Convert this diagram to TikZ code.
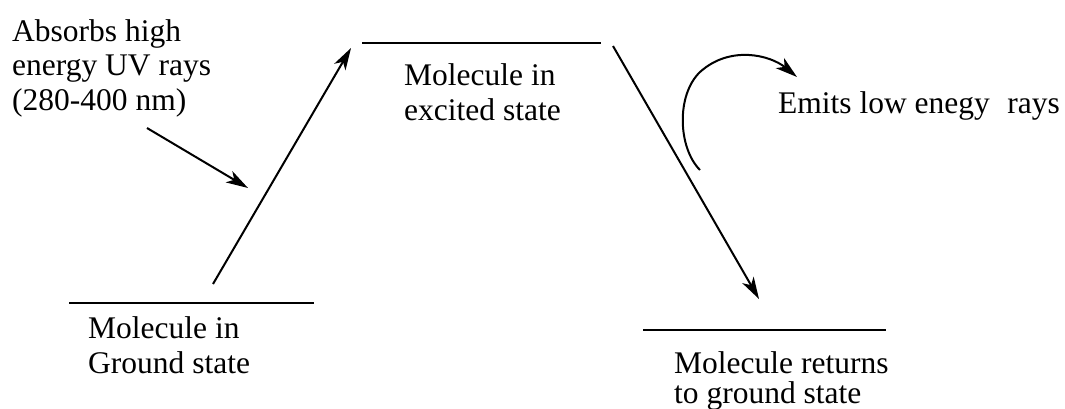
\documentclass[tikz,border=0pt]{standalone}
\usepackage{fontspec}
\setmainfont{Liberation Serif}
\usetikzlibrary{arrows.meta}
\begin{document}
\begin{tikzpicture}[x=1pt,y=-1pt,
  level/.style={line width=2pt},
  arr/.style={line width=2pt,-{Stealth[length=22pt,width=13pt,inset=6pt]}},
  lbl/.style={inner sep=0pt,anchor=base west,align=left,
    font=\fontsize{31.5}{34.5}\selectfont}]
\useasboundingbox (0,0) rectangle (1065,408);
% energy levels
\coordinate (g1) at (69,303);  \coordinate (g2) at (314,303);
\coordinate (e1) at (362,43);  \coordinate (e2) at (601,43);
\coordinate (r1) at (643,330); \coordinate (r2) at (886,330);
\draw[level] (g1) -- (g2);
\draw[level] (e1) -- (e2);
\draw[level] (r1) -- (r2);
% labels (base anchor = baseline of last line)
\node[lbl] (absorb) at (12,110) {Absorbs high\\energy UV rays\\(280-400 nm)};
\node[lbl] (excited) at (404,120) {Molecule in\\excited state};
\node[lbl] (ground) at (88,373) {Molecule in\\Ground state};
\node[lbl,font=\fontsize{31.5}{30}\selectfont] (returns) at (674,403) {Molecule returns\\to ground state};
\node[lbl] (emits) at (778,113) {Emits low enegy\hspace{0.3em} rays};
% arrows
\coordinate (a0) at (147,128); \coordinate (a1) at (248,188);
\coordinate (u0) at (213,284); \coordinate (u1) at (351,48);
\coordinate (d0) at (613,46);  \coordinate (d1) at (759,299);
\coordinate (c0) at (700,170); \coordinate (cm) at (700,72); \coordinate (c1) at (797,77);
\draw[arr] (a0) -- (a1);
\draw[arr] (u0) -- (u1);
\draw[arr] (d0) -- (d1);
\draw[arr] (c0) .. controls (678,148) and (676,95) .. (cm)
               .. controls (730,45) and (770,55) .. (c1);
\end{tikzpicture}
\end{document}
